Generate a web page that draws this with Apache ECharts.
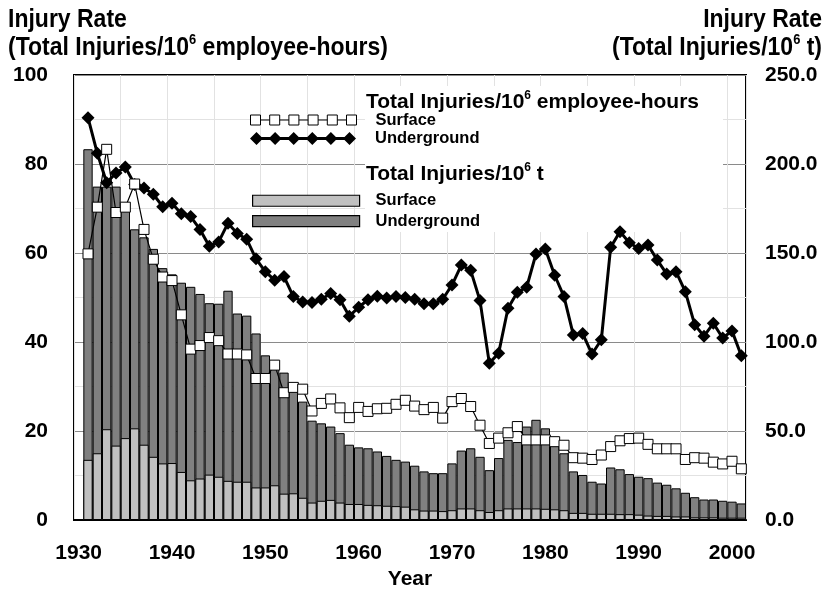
<!DOCTYPE html>
<html><head><meta charset="utf-8">
<script src="https://cdn.jsdelivr.net/npm/echarts@6/dist/echarts.min.js"></script>
<style>html,body{margin:0;padding:0;background:#fff}#c{width:828px;height:592px}</style>
</head><body><div id="c"></div>
<script>
// ---------------- data ----------------
const years = ['1930','1931','1932','1933','1934','1935','1936','1937','1938','1939',
 '1940','1941','1942','1943','1944','1945','1946','1947','1948','1949',
 '1950','1951','1952','1953','1954','1955','1956','1957','1958','1959',
 '1960','1961','1962','1963','1964','1965','1966','1967','1968','1969',
 '1970','1971','1972','1973','1974','1975','1976','1977','1978','1979',
 '1980','1981','1982','1983','1984','1985','1986','1987','1988','1989',
 '1990','1991','1992','1993','1994','1995','1996','1997','1998','1999',
 '2000','2001'];
const xTickLabels = ['1930','1940','1950','1960','1970','1980','1990','2000'];
const leftTicks = [0, 20, 40, 60, 80, 100];
const rightTicks = [0, 50, 100, 150, 200, 250];

// Total injuries / 10^6 employee-hours (left axis)
const surfacePerHours = [null,
 59.8,70.3,83.3,69.1,70.3,75.5,65.3,58.6,54.6,
 53.8,46.1,38.4,39.2,41.0,40.3,37.3,37.3,37.1,31.8,
 31.8,34.8,28.6,29.8,29.4,24.5,26.2,27.2,25.2,23.0,
 25.3,24.4,25.0,25.1,26.0,26.9,25.6,24.8,25.3,22.9,
 26.6,27.3,25.5,21.3,17.2,18.4,19.6,21.0,18.0,18.0,
 18.0,17.6,16.8,14.0,13.9,13.6,14.6,16.5,17.8,18.3,
 18.4,17.0,16.0,16.0,16.0,13.6,14.0,13.9,13.0,12.6,
 13.2,11.5];
const undergroundPerHours = [null,
 90.4,82.4,75.8,78.0,79.3,75.4,74.6,73.2,70.4,
 71.2,68.8,68.2,65.3,61.5,62.5,66.7,64.4,63.1,58.7,
 55.8,53.9,54.7,50.2,49.0,48.9,49.6,50.9,49.5,45.8,
 47.8,49.5,50.3,49.9,50.2,50.0,49.6,48.6,48.6,49.6,
 52.8,57.3,56.1,49.3,35.2,37.5,47.6,51.2,52.3,59.8,
 60.9,55.0,50.2,41.6,41.9,37.3,40.5,61.3,64.8,62.3,
 61.0,61.8,58.4,55.3,55.8,51.3,43.9,41.3,44.2,40.9,
 42.5,36.9];

// Total injuries / 10^6 t (right axis)
const surfacePerT = [null,
 33.8,37.5,51.0,41.8,46.0,51.5,42.3,35.5,31.8,
 32.0,27.0,22.3,23.3,25.5,24.3,22.0,21.5,21.5,18.3,
 18.3,19.5,14.8,15.0,12.5,9.8,10.8,11.3,9.8,9.0,
 9.0,8.5,8.3,8.0,7.8,7.5,6.0,5.3,5.3,5.0,
 5.5,6.5,6.5,5.5,4.5,5.5,6.5,6.5,6.5,6.5,
 6.3,6.0,5.5,4.0,4.0,3.5,3.5,3.5,3.3,3.3,
 3.0,2.5,2.3,2.3,2.0,2.0,1.5,1.5,1.5,1.3,
 1.3,1.3];
const undergroundPerT = [null,
 208.3,187.3,187.3,187.3,176.0,163.3,158.8,152.3,141.5,
 138.0,133.3,131.0,127.0,121.8,121.5,128.8,116.0,114.8,104.8,
 92.5,88.3,82.8,74.5,66.5,55.8,54.3,52.5,48.8,42.3,
 40.8,40.3,38.5,36.0,33.8,32.8,30.5,27.3,26.3,26.3,
 31.8,39.0,40.3,35.5,28.0,34.8,45.0,43.8,52.5,56.3,
 51.5,45.0,37.5,27.3,25.3,21.5,20.5,29.5,28.5,25.8,
 24.3,23.5,21.0,19.8,17.8,15.3,12.8,11.5,11.5,10.8,
 10.3,9.3];

// ---------------- chart ----------------
const FONT = '"Liberation Sans", Arial, Helvetica, sans-serif';
const chart = echarts.init(document.getElementById('c'), null, {renderer: 'canvas'});

const squaresIcon = 'path://M0 0h10v10h-10z M10 5H19.2 M19.2 0h10v10h-10z M29.2 5H38.4 M38.4 0h10v10h-10z M48.4 5H57.6 M57.6 0h10v10h-10z M67.6 5H76.8 M76.8 0h10v10h-10z M86.8 5H96 M96 0h10v10h-10z';
const diamondsIcon = 'path://M0 6.5L6.5 0L13 6.5L6.5 13Z M18.6 6.5L25.1 0L31.6 6.5L25.1 13Z M37.2 6.5L43.7 0L50.2 6.5L43.7 13Z M55.8 6.5L62.3 0L68.8 6.5L62.3 13Z M74.4 6.5L80.9 0L87.4 6.5L80.9 13Z M93 6.5L99.5 0L106 6.5L99.5 13Z M6 5H100V8H6Z';

const legendName = n => n.split(' (')[0];
const legendText = (pad) => ({fontFamily: FONT, fontWeight: 'bold', fontSize: 16.5, color: '#000', lineHeight: 14, padding: pad});

function richTitle(pre, post, size, supSize) {
  return {
    text: '{a|' + pre + '}{s|6}{a|' + post + '}',
    rich: {
      a: {fontFamily: FONT, fontWeight: 'bold', fontSize: size, lineHeight: size + 4, fill: '#000'},
      s: {fontFamily: FONT, fontWeight: 'bold', fontSize: supSize, lineHeight: supSize, verticalAlign: 'top', fill: '#000'}
    }
  };
}

const option = {
  animation: false,
  backgroundColor: '#fff',
  grid: {left: 74, right: 82, top: 75, bottom: 72, show: true, borderColor: '#000', borderWidth: 2,
         backgroundColor: 'transparent', containLabel: false, outerBoundsMode: 'none'},
  xAxis: {
    type: 'category', data: years, boundaryGap: true,
    axisLine: {show: true, lineStyle: {color: '#000', width: 2}},
    axisTick: {show: false},
    axisLabel: {interval: (i, v) => xTickLabels.includes(v), margin: 23, color: '#000',
                fontFamily: FONT, fontWeight: 'bold', fontSize: 21},
    splitLine: {show: true, interval: 4, lineStyle: {color: '#e2e2e2', width: 1}},
    name: 'Year', nameLocation: 'middle', nameGap: 48,
    nameTextStyle: {color: '#000', fontFamily: FONT, fontWeight: 'bold', fontSize: 21}
  },
  yAxis: [
    {type: 'value', min: leftTicks[0], max: leftTicks[leftTicks.length - 1], interval: leftTicks[1] - leftTicks[0], position: 'left',
     axisLine: {show: false}, axisTick: {show: false},
     axisLabel: {margin: 26, color: '#000', fontFamily: FONT, fontWeight: 'bold', fontSize: 21},
     splitLine: {show: true, lineStyle: {color: '#8a8a8a', width: 1}},
     minorTick: {show: false, splitNumber: 2},
     minorSplitLine: {show: true, lineStyle: {color: '#e2e2e2', width: 1}}},
    {type: 'value', min: rightTicks[0], max: rightTicks[rightTicks.length - 1], interval: rightTicks[1] - rightTicks[0], position: 'right',
     axisLine: {show: false}, axisTick: {show: false}, splitLine: {show: false},
     axisLabel: {margin: 19, color: '#000', fontFamily: FONT, fontWeight: 'bold', fontSize: 21,
                 formatter: v => v.toFixed(1)}}
  ],
  legend: [
    {data: [{name: 'Surface (per hours)', icon: squaresIcon, itemStyle: {color: '#fff', borderColor: '#000', borderWidth: 1}}],
     left: 250, top: 108, itemWidth: 106, itemHeight: 10, padding: 0, selectedMode: false,
     formatter: legendName, textStyle: legendText([10, 0, 0, 14])},
    {data: [{name: 'Underground (per hours)', icon: diamondsIcon, itemStyle: {color: '#000', borderWidth: 0}}],
     left: 250, top: 124, itemWidth: 106, itemHeight: 13, padding: 0, selectedMode: false,
     formatter: legendName, textStyle: legendText([15, 0, 0, 14])},
    {data: [{name: 'Surface (per t)', icon: 'rect', itemStyle: {color: '#c0c0c0', borderColor: '#000', borderWidth: 1.2}},
            {name: 'Underground (per t)', icon: 'rect', itemStyle: {color: '#808080', borderColor: '#000', borderWidth: 1.2}}],
     orient: 'vertical', left: 252, top: 191, itemWidth: 107, itemHeight: 11, itemGap: 0.8, padding: 0, selectedMode: false,
     formatter: legendName, textStyle: legendText([0, 0, 5.5, 11])}
  ],
  graphic: [
    {type: 'rect', shape: {x: 365, y: 86, width: 358, height: 146}, style: {fill: '#fff'}, z: 1, silent: true},
    {type: 'text', x: 8, y: 20, scaleX: 0.92, z: 5,
     style: {text: 'Injury Rate', fontFamily: FONT, fontWeight: 'bold', fontSize: 25, fill: '#000', align: 'left', verticalAlign: 'middle'}},
    {type: 'text', x: 8, y: 48, scaleX: 0.92, z: 5,
     style: Object.assign(richTitle('(Total Injuries/10', ' employee-hours)', 25, 14), {align: 'left', verticalAlign: 'middle'})},
    {type: 'text', x: 822, y: 20, scaleX: 0.92, z: 5,
     style: {text: 'Injury Rate', fontFamily: FONT, fontWeight: 'bold', fontSize: 25, fill: '#000', align: 'right', verticalAlign: 'middle'}},
    {type: 'text', x: 822, y: 48, scaleX: 0.92, z: 5,
     style: Object.assign(richTitle('(Total Injuries/10', ' t)', 25, 14), {align: 'right', verticalAlign: 'middle'})},
    {type: 'text', x: 366, y: 102, z: 5,
     style: Object.assign(richTitle('Total Injuries/10', ' employee-hours', 21, 12), {align: 'left', verticalAlign: 'middle'})},
    {type: 'text', x: 366, y: 174, z: 5,
     style: Object.assign(richTitle('Total Injuries/10', ' t', 21, 12), {align: 'left', verticalAlign: 'middle'})}
  ],
  series: [
    {name: 'Underground (per t)', type: 'bar', xAxisIndex: 0, yAxisIndex: 1, data: undergroundPerT,
     barCategoryGap: '0%', barGap: '-100%', z: 2,
     itemStyle: {color: '#808080', borderColor: '#000', borderWidth: 1}},
    {name: 'Surface (per t)', type: 'bar', xAxisIndex: 0, yAxisIndex: 1, data: surfacePerT,
     barCategoryGap: '0%', barGap: '-100%', z: 2,
     itemStyle: {color: '#c0c0c0', borderColor: '#000', borderWidth: 1}},
    {name: 'Underground (per hours)', type: 'line', xAxisIndex: 0, yAxisIndex: 0, data: undergroundPerHours,
     symbol: 'diamond', symbolSize: 13, showAllSymbol: true, z: 3,
     itemStyle: {color: '#000'}, lineStyle: {color: '#000', width: 3}},
    {name: 'Surface (per hours)', type: 'line', xAxisIndex: 0, yAxisIndex: 0, data: surfacePerHours,
     symbol: 'rect', symbolSize: 10, showAllSymbol: true, z: 4,
     itemStyle: {color: '#fff', borderColor: '#000', borderWidth: 1}, lineStyle: {color: '#000', width: 1.2}}
  ]
};
chart.setOption(option);
</script>
</body></html>
